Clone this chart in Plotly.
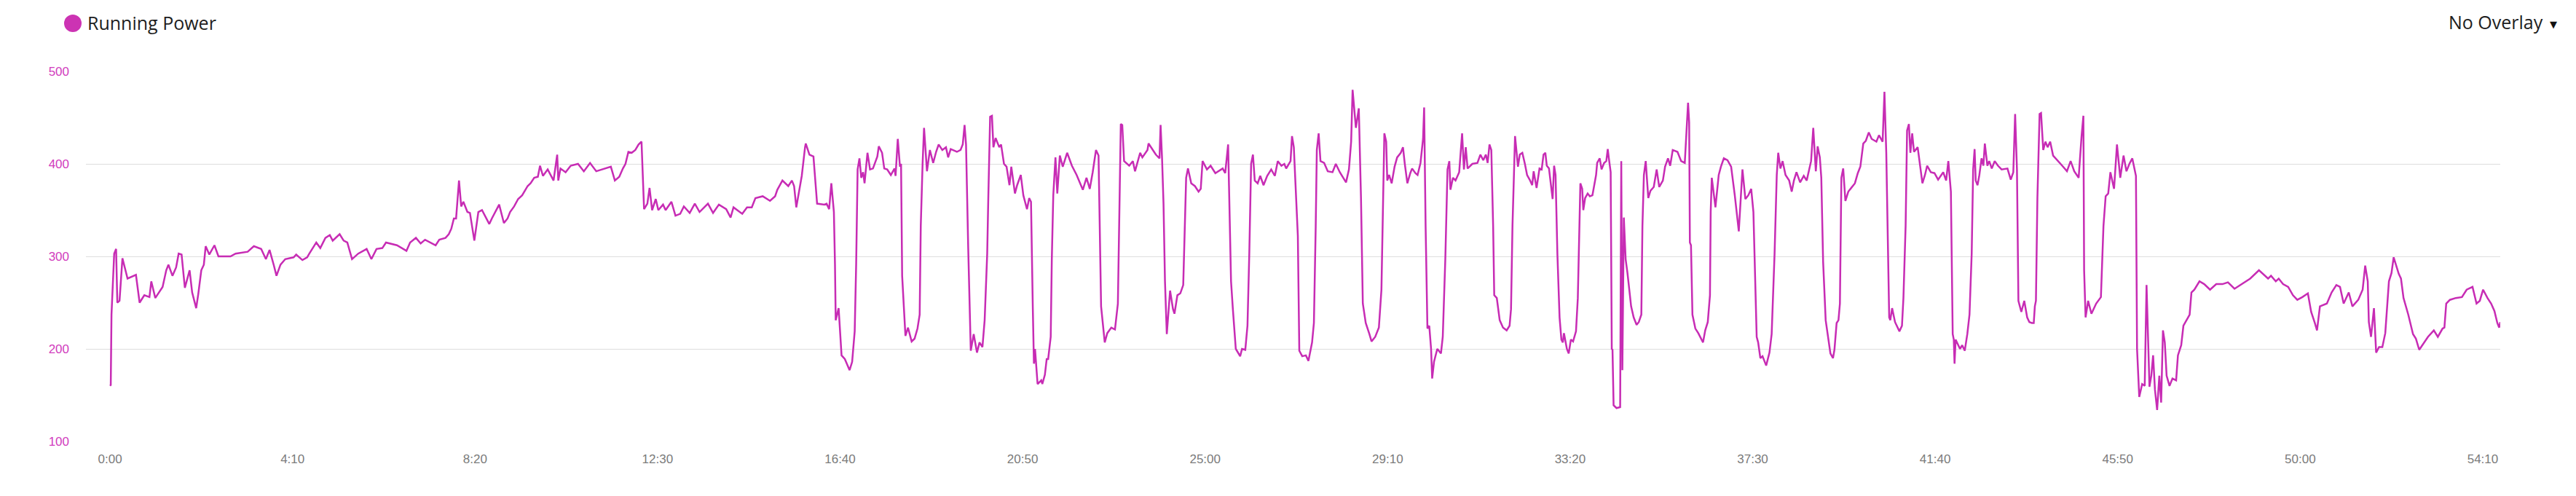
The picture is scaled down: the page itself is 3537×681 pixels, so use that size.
import plotly.graph_objects as go

# ---- data (elapsed seconds, running power in watts) ----
seg_a_t = [0, 1, 2, 5.7, 8.3, 10, 13, 17, 24, 30.5, 35.5, 40.5, 47, 54, 56.5, 62, 67, 72, 77, 80, 85.5, 90.5, 94, 98,
           102.5, 109, 112.5, 118, 121, 125, 128.5, 131, 136, 143, 148.5, 165, 172, 188.5, 197, 207, 213.5, 218.5,
           224.5, 228, 233.5, 240, 251.5, 255, 263.5, 270, 273, 282.5]
seg_a_w = [160, 161, 237, 303, 308, 250, 252, 298, 276, 278, 280, 250, 258, 256, 273, 255, 261, 267, 285, 291, 279, 288,
           303, 302, 266, 285, 261, 244, 260, 285, 291, 311, 302, 312, 300, 300, 303, 305, 311, 308, 297, 307, 290, 279,
           291, 297, 299, 302, 296, 299, 303, 315]

seg_b_t = [288, 295, 301, 305, 314.5, 320, 325, 331.5, 340, 351.5, 358, 365, 373, 378, 393, 406, 411, 419, 425.5, 431.5,
           446, 451, 459.5, 464, 467.5, 471, 474, 478, 481, 484, 489.5, 493, 499, 504.5, 509.5, 514.5, 519.5, 523, 528,
           533, 539.5, 544.5, 548, 553.5, 559, 564.5, 572, 576, 581, 586, 589, 593, 599.5, 607.5, 612.5, 614, 617]
seg_b_w = [309, 320, 323, 317, 324, 317, 315, 297, 303, 308, 297, 308, 309, 315, 312, 306, 315, 320, 314, 318, 312, 318,
           320, 324, 330, 341, 341, 382, 354, 359, 348, 347, 317, 348, 350, 342, 335, 341, 348, 356, 336, 341, 348, 354,
           362, 366, 376, 379, 385, 386, 398, 387, 394, 382, 410, 382, 395]

seg_c_t = [624, 631, 641, 649, 657.5, 666, 677.5, 686, 691.5, 697.5, 702.5, 706, 710, 714.5, 719.5, 724, 728, 731.5, 736,
           739, 742.5, 747.5, 751, 757.5, 761, 769, 774.5, 781, 786, 794, 801, 807.5, 819, 826, 834, 844, 850, 854, 866,
           872.5, 879, 884, 894, 904, 911, 914, 921, 929, 934, 937, 940, 947.5, 952]
seg_c_w = [391, 398, 400, 392, 401, 392, 395, 397, 382, 386, 395, 400, 413, 412, 415, 421, 424, 351, 357, 374, 350, 362,
           350, 356, 350, 359, 344, 346, 354, 347, 357, 348, 357, 347, 356, 351, 342, 353, 346, 353, 353, 363, 365, 360,
           365, 372, 382, 376, 382, 376, 353, 387, 418]

seg_d_t = [953, 958, 963.5, 968.5, 978.5, 981.5, 985, 988, 991.5, 993, 994, 998, 1002, 1006.5, 1013, 1016.5, 1020, 1022,
           1024, 1026.5, 1029, 1031.5, 1033.5, 1037.5, 1041, 1045, 1048, 1051, 1053, 1057.5, 1060.5, 1064.5, 1069.5,
           1074.5, 1076, 1079, 1082, 1083.5, 1085, 1087, 1089.5, 1093, 1098, 1102, 1106, 1109, 1110.5, 1113, 1115, 1119,
           1123, 1127.5, 1131.5, 1135, 1140, 1145, 1148, 1151.5, 1160, 1165, 1168, 1170.5, 1172.5, 1175.5, 1179, 1183,
           1187.5, 1191, 1195, 1198, 1201.5, 1203, 1205.5, 1208, 1210, 1213, 1218, 1220.5, 1224.5, 1228, 1232, 1234.5,
           1239.5, 1242.5, 1247.5, 1251, 1256, 1259, 1261.5, 1264, 1265.5, 1267, 1270.5, 1275.5, 1277, 1280.5, 1283,
           1285]
seg_d_w = [422, 410, 408, 357, 356, 357, 351, 379, 348, 291, 231, 244, 193, 189, 177, 186, 219, 291, 394, 406, 385, 391,
           379, 412, 394, 395, 401, 408, 419, 412, 395, 394, 388, 395, 387, 427, 397, 400, 279, 249, 214, 223, 208, 211,
           222, 237, 333, 400, 439, 392, 415, 401, 413, 421, 415, 418, 407, 416, 413, 415, 421, 442, 421, 309, 198, 216,
           196, 207, 202, 231, 303, 363, 451, 452, 418, 428, 418, 421, 400, 397, 377, 397, 368, 377, 388, 366, 351, 363,
           359, 243, 184, 200, 162, 166, 162, 172, 189, 189]

seg_e_t = [1288.5, 1290, 1292, 1295, 1297.5, 1301, 1305, 1311, 1317.5, 1324, 1332.5, 1337.5, 1342, 1346, 1350.5, 1354,
           1357.5, 1362.5, 1366, 1371.5, 1376.5, 1380.5, 1382.5, 1384.5, 1386.5, 1389, 1396, 1401, 1404, 1407.5, 1411,
           1414, 1421, 1422.5, 1427.5, 1432.5, 1437.5, 1439, 1441, 1443, 1445, 1447.5, 1452, 1456, 1458, 1462, 1466,
           1470, 1474, 1476.5, 1481, 1486, 1491, 1494, 1496.5, 1502.5, 1507.5, 1514, 1524, 1527.5, 1531.5, 1533, 1535.5,
           1538, 1542, 1548, 1550.5, 1555, 1558, 1560.5, 1563, 1565.5, 1568, 1572, 1575.5, 1580, 1585, 1590.5, 1595.5,
           1599.5, 1604.5, 1608.5, 1611, 1617, 1619]
seg_e_w = [213, 297, 366, 407, 368, 409, 397, 412, 398, 388, 372, 385, 373, 391, 415, 409, 246, 207, 217, 223, 221, 249,
           363, 443, 442, 403, 398, 403, 392, 403, 412, 407, 415, 422, 416, 410, 406, 442, 406, 357, 273, 216, 263, 243,
           238, 258, 260, 269, 385, 395, 379, 376, 370, 373, 403, 394, 398, 390, 395, 390, 421, 357, 273, 243, 200, 192,
           200, 199, 225, 303, 400, 410, 382, 379, 387, 377, 387, 394, 387, 403, 398, 400, 395, 403, 430]

seg_f_t = [1621.5, 1624, 1627, 1629, 1633, 1638, 1641.5, 1646.5, 1649, 1651.5, 1653, 1655.5, 1658, 1663, 1668, 1674.5,
           1679, 1684.5, 1693, 1697, 1700, 1702, 1706.5, 1710.5, 1713.5, 1716, 1720, 1725, 1728, 1733, 1738, 1741.5,
           1743, 1745.5, 1748, 1749.5, 1752, 1755.5, 1759.5, 1763, 1768, 1771, 1773.5, 1777, 1781, 1783.5, 1788, 1791,
           1795, 1798.5, 1800, 1802, 1804.5, 1807, 1809.5, 1811, 1813.5, 1818, 1823, 1825.5, 1829, 1832, 1834.5, 1836,
           1839.5, 1843, 1848, 1852, 1854.5, 1857, 1859.5, 1866, 1873, 1877, 1881, 1884.5, 1887, 1889.5, 1892, 1894.5,
           1896, 1899.5, 1903.5, 1908, 1913, 1917, 1919, 1921, 1924.5, 1927, 1928.5, 1931, 1934.5, 1938, 1941, 1944.5,
           1948, 1950, 1954]
seg_f_w = [418, 370, 322, 198, 192, 193, 187, 207, 228, 333, 415, 433, 403, 401, 392, 391, 400, 391, 380, 394, 424, 480,
           439, 460, 363, 249, 228, 216, 208, 213, 223, 264, 333, 433, 424, 382, 388, 379, 397, 407, 412, 418, 400, 379,
           390, 395, 390, 388, 401, 427, 461, 333, 222, 225, 200, 168, 186, 200, 195, 213, 297, 394, 403, 372, 385, 382,
           391, 433, 394, 418, 395, 400, 401, 410, 404, 410, 401, 421, 415, 333, 258, 255, 231, 223, 220, 225, 243, 333,
           430, 412, 397, 410, 412, 400, 388, 383, 377, 392, 374]

seg_g_t = [1958, 1961, 1963.5, 1966, 1968, 1971, 1974, 1976, 1978, 1980, 1982.5, 1985.5, 1988, 1990, 1991.5, 1995.5,
           1998, 2001, 2004, 2008, 2010.5, 2012.5, 2014, 2016.5, 2018, 2020.5, 2024, 2027, 2030.5, 2033, 2035.5, 2037,
           2040.5, 2043, 2046.5, 2049.5, 2051.5, 2053, 2055.5, 2057, 2058, 2059.5, 2063.5, 2068.5, 2069, 2070, 2071.5,
           2073.5, 2076, 2078.5, 2083.5, 2087, 2091, 2094, 2097.5, 2099, 2101, 2103.5, 2107, 2110, 2114.5, 2118.5, 2122,
           2127, 2130, 2134, 2137, 2140.5, 2147, 2152, 2157, 2160, 2161.5, 2163, 2164, 2165.5, 2167.5, 2171.5, 2175.5,
           2182, 2185, 2188.5, 2191.5, 2192.5, 2194, 2199, 2203.5, 2206.5, 2210.5, 2215.5, 2220.5, 2225.5, 2231, 2236,
           2240, 2244, 2248, 2251, 2255.5, 2257.5, 2260.5, 2263.5, 2268.5, 2273, 2276, 2280, 2283, 2285, 2288]
seg_g_w = [395, 394, 410, 412, 398, 395, 375, 362, 398, 388, 303, 234, 210, 207, 217, 200, 195, 210, 208, 219, 255, 333,
           379, 373, 350, 363, 368, 365, 366, 377, 388, 401, 406, 394, 401, 403, 416, 406, 391, 200, 199, 139, 136, 137,
           243, 403, 177, 342, 297, 282, 246, 234, 226, 229, 237, 333, 388, 403, 363, 371, 375, 394, 375, 382, 397, 406,
           398, 415, 413, 403, 401, 445, 466, 445, 315, 312, 237, 222, 217, 207, 220, 229, 258, 348, 385, 353, 388, 397,
           406, 404, 397, 366, 327, 394, 362, 366, 373, 348, 213, 207, 190, 192, 182, 196, 216, 303, 388, 412, 395]

seg_h_t = [2291, 2295, 2300, 2303.5, 2306.5, 2310, 2315, 2320, 2324, 2326.5, 2330, 2333, 2336.5, 2339, 2342, 2344,
           2346.5, 2350, 2353, 2356.5, 2360, 2362, 2365, 2367.5, 2369.5, 2371.5, 2374, 2377, 2381, 2385, 2390, 2394,
           2397.5, 2401.5, 2405, 2409, 2413, 2419.5, 2423, 2428, 2430.5, 2433, 2437, 2438.5, 2441, 2445, 2451, 2454.5,
           2456.5, 2459.5, 2461.5, 2464, 2466, 2468.5, 2471, 2476, 2479, 2482.5, 2486, 2489, 2494, 2499, 2504, 2511,
           2515, 2518, 2521.5, 2524, 2525.5, 2526.5, 2528, 2534, 2537, 2540.5, 2544, 2547, 2550, 2552, 2554, 2555.5,
           2558, 2560.5, 2563.5, 2566, 2568, 2571.5, 2574, 2577.5, 2581.5, 2586, 2591, 2599, 2603.5, 2607, 2609.5, 2612,
           2614, 2618, 2622]
seg_h_w = [403, 388, 382, 370, 382, 391, 380, 387, 382, 391, 403, 439, 392, 419, 407, 385, 294, 231, 214, 195, 190, 199,
           228, 231, 249, 385, 395, 360, 370, 374, 379, 390, 397, 422, 425, 434, 427, 424, 431, 424, 478, 412, 234, 231,
           244, 229, 219, 225, 255, 333, 436, 443, 412, 433, 413, 418, 400, 379, 388, 398, 391, 390, 383, 391, 382, 403,
           370, 216, 210, 184, 210, 200, 204, 198, 216, 237, 303, 394, 416, 382, 377, 388, 406, 398, 422, 398, 403, 395,
           403, 398, 394, 395, 383, 391, 454, 394, 252, 240, 252]

seg_i_t = [2626, 2629, 2632.5, 2635, 2636.5, 2638, 2640, 2643, 2645, 2648, 2651, 2654, 2657.5, 2661.5, 2667.5, 2674,
           2680.5, 2685.5, 2690.5, 2696.5, 2700.5, 2703, 2704, 2706, 2709.5, 2714, 2720.5, 2727, 2730.5, 2733.5, 2737,
           2740, 2745, 2749, 2753.5, 2758, 2762, 2766, 2770, 2775, 2776.5, 2779.5, 2783.5, 2787, 2789.5, 2793.5, 2796,
           2798.5, 2801, 2804, 2807, 2809.5, 2812, 2814.5, 2817, 2821, 2825, 2830, 2832.5, 2837, 2840, 2844.5, 2848.5,
           2851, 2855, 2862, 2868.5, 2876.5, 2885, 2893.5, 2901, 2910, 2920, 2931.5, 2943.5, 2956]
seg_i_w = [234, 229, 228, 228, 246, 252, 363, 454, 455, 415, 424, 418, 424, 409, 404, 398, 392, 403, 392, 385, 430, 452,
           285, 234, 252, 238, 249, 256, 333, 365, 368, 391, 373, 421, 385, 409, 392, 400, 406, 387, 200, 148, 162, 160,
           269, 159, 171, 193, 156, 134, 171, 142, 220, 207, 171, 160, 168, 166, 193, 204, 225, 232, 237, 261, 264, 273,
           270, 264, 270, 270, 272, 265, 270, 276, 285, 276]

seg_j_t = [2960, 2966.5, 2970.5, 2976.5, 2983.5, 2990, 2996, 3003, 3010.5, 3015, 3020, 3023, 3027, 3036.5, 3043,
           3049.5, 3054.5, 3059.5, 3066.5, 3071.5, 3079.5, 3085.5, 3089, 3092.5, 3094, 3097, 3101, 3104, 3108, 3112.5,
           3116.5, 3121.5, 3125, 3128, 3135, 3138, 3141.5, 3148, 3154.5, 3158.5, 3163, 3168.5, 3175, 3183, 3188.5, 3195,
           3197.5, 3200, 3205, 3213, 3221.5, 3228, 3236, 3241.5, 3246, 3250.5, 3256.5, 3261.5, 3266, 3270, 3272.5, 3274]
seg_j_w = [279, 273, 276, 270, 267, 258, 253, 256, 260, 240, 228, 220, 246, 249, 261, 269, 267, 249, 261, 246, 253, 264,
           290, 273, 229, 213, 244, 196, 202, 202, 217, 273, 282, 299, 281, 276, 255, 237, 216, 211, 199, 205, 213, 220,
           213, 222, 223, 249, 253, 255, 256, 264, 267, 249, 252, 264, 255, 249, 241, 228, 223, 229]

tick_seconds = [0, 250, 500, 750, 1000, 1250, 1500, 1750, 2000, 2250, 2500, 2750, 3000, 3250]
tick_labels = ["0:00", "4:10", "8:20", "12:30", "16:40", "20:50", "25:00", "29:10", "33:20", "37:30",
               "41:40", "45:50", "50:00", "54:10"]
y_ticks = [100, 200, 300, 400, 500]

series_name = "Running Power"
overlay_label = "No Overlay"

# ---- assemble ----
time_s = (seg_a_t + seg_b_t + seg_c_t + seg_d_t + seg_e_t + seg_f_t + seg_g_t + seg_h_t + seg_i_t + seg_j_t)
power_w = (seg_a_w + seg_b_w + seg_c_w + seg_d_w + seg_e_w + seg_f_w + seg_g_w + seg_h_w + seg_i_w + seg_j_w)

LINE = "#c72cb4"
W, H = 3537, 681
ML, MR, MT, MB = 118, 104, 98, 75
PW, PH = W - ML - MR, H - MT - MB


def px(x):
    return (x - ML) / PW


def py(y):
    return (H - MB - y) / PH


fig = go.Figure()
fig.add_trace(go.Scatter(x=time_s, y=power_w, mode="lines", name=series_name,
                         line=dict(color=LINE, width=2.5), hoverinfo="skip"))

fig.update_layout(
    width=W, height=H,
    margin=dict(l=ML, r=MR, t=MT, b=MB),
    paper_bgcolor="white", plot_bgcolor="white",
    showlegend=False,
    xaxis=dict(range=[-33, 3274], tickmode="array", tickvals=tick_seconds, ticktext=tick_labels,
               showgrid=False, zeroline=False, showline=False, ticks="",
               tickfont=dict(family="Liberation Sans, Arial", size=17, color="#7b7b7b"),
               ticklabelstandoff=12),
    yaxis=dict(range=[100, 500], tickmode="array", tickvals=y_ticks,
               showgrid=True, gridcolor="#dedede", gridwidth=1, zeroline=False, showline=False, ticks="",
               tickfont=dict(family="Liberation Sans, Arial", size=17, color="#d13cbd"),
               ticklabelstandoff=22),
)

# legend-like header
fig.add_shape(type="circle", xref="paper", yref="paper",
              x0=px(88), x1=px(112), y0=py(44), y1=py(20),
              fillcolor="#cc33b3", line=dict(width=0))
fig.add_annotation(text=series_name, xref="paper", yref="paper", x=px(118), y=py(31),
                   xanchor="left", yanchor="middle", showarrow=False,
                   font=dict(family="Open Sans", size=25, color="#1e1e1e"))
fig.add_annotation(text=overlay_label, xref="paper", yref="paper", x=px(3494), y=py(30),
                   xanchor="right", yanchor="middle", showarrow=False,
                   font=dict(family="Open Sans", size=25, color="#1e1e1e"))
fig.add_annotation(text="▼", xref="paper", yref="paper", x=px(3506), y=py(33),
                   xanchor="center", yanchor="middle", showarrow=False,
                   font=dict(family="DejaVu Sans", size=13, color="#111111"))

fig.write_html("out.html",
               config={"displayModeBar": False, "staticPlot": True},
               post_script="document.body.style.margin='0';document.body.style.padding='0';"
                           "document.body.style.overflow='hidden';")
